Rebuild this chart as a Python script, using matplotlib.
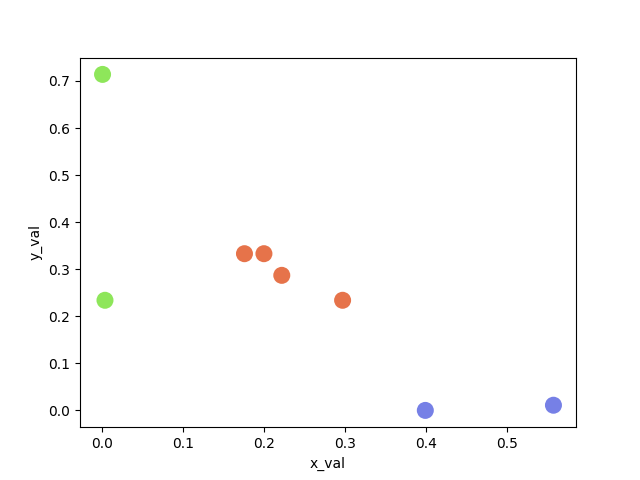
import matplotlib
matplotlib.use("Agg")
import matplotlib.pyplot as plt

# cluster points
x_green = [0.001, 0.004]
y_green = [0.714, 0.234]
x_orange = [0.176, 0.200, 0.222, 0.297]
y_orange = [0.333, 0.333, 0.287, 0.234]
x_blue = [0.399, 0.557]
y_blue = [0.000, 0.011]

fig, ax = plt.subplots(figsize=(6.4, 4.8), dpi=100)
ax.scatter(x_green, y_green, s=150, color='#8ee65a', edgecolors='none')
ax.scatter(x_orange, y_orange, s=150, color='#e6734a', edgecolors='none')
ax.scatter(x_blue, y_blue, s=150, color='#7680e6', edgecolors='none')
ax.set_xlabel('x_val')
ax.set_ylabel('y_val')
fig.savefig('out.png')
